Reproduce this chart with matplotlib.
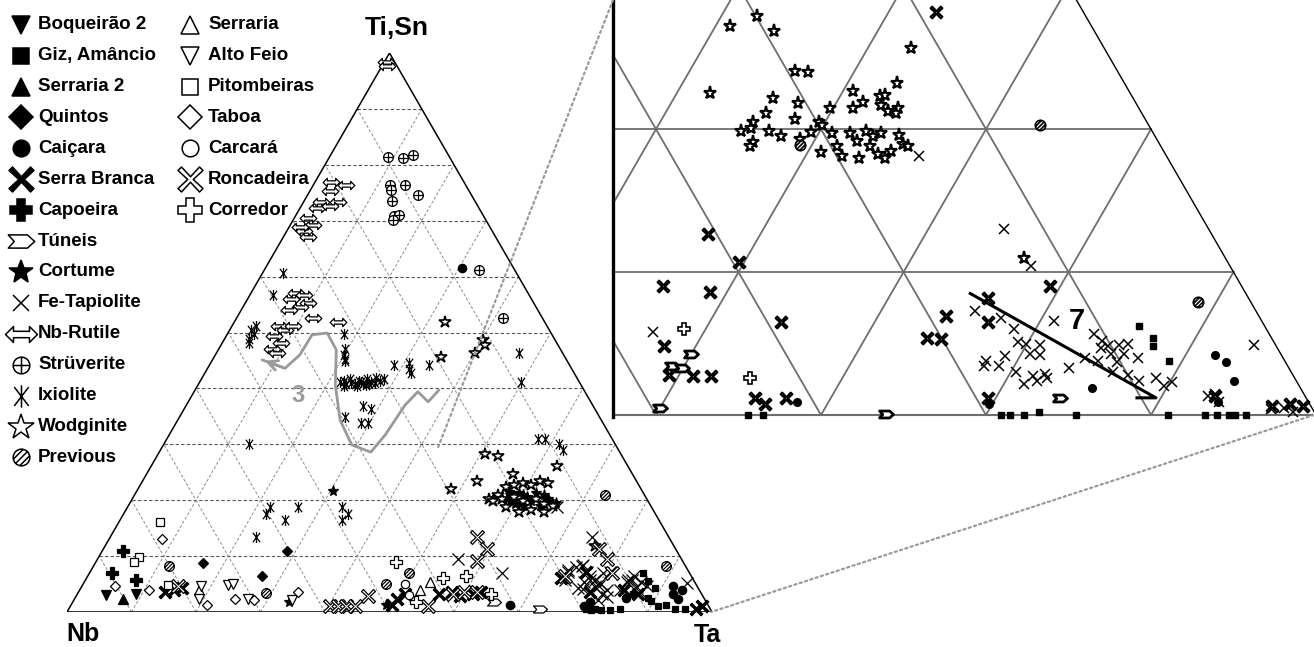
import numpy as np
import matplotlib
matplotlib.use("Agg")
import matplotlib.pyplot as plt
from matplotlib.path import Path
from matplotlib.patches import ConnectionPatch

plt.rcParams['font.family'] = ['Liberation Sans', 'DejaVu Sans']

# ---- data: (Ta %, Ti+Sn %) ; Nb is the remainder ----
boqueirao2 = [(9.1, 3.2), (4.5, 3.0)]
giz = [(85.8, 6.9), (87.3, 5.5), (89.0, 4.3), (88.8, 2.5), (85.4, 0.6), (81.5, 0.6), (91.1, 1.0),
       (92.2, 1.3), (93.9, 0.6), (80.2, 0.6), (86.1, 3.2), (89.5, 2.0), (95.5, 0.5),
       (81.1, 0.3), (82.6, 0.3), (84.0, 0.3)]
serraria2 = [(7.5, 2.4)]
quintos = [(16.8, 8.7), (27.0, 6.5), (28.7, 10.9)]
caicara = [(30.5, 61.5), (91.6, 4.7), (93.4, 3.9), (92.3, 3.2), (93.6, 2.4), (85.4, 2.5),
           (79.7, 1.0), (80.3, 1.7), (68.1, 1.3)]
serra_branca = [(73.5, 6.1), (76.9, 7.2), (79.4, 3.5), (84.4, 3.9), (87.0, 3.2), (97.2, 0.6),
                (97.9, 1.0), (13.5, 3.5), (14.6, 3.9), (15.7, 4.3), (49.9, 2.4), (50.8, 3.2),
                (49.8, 1.3), (56.0, 3.2), (57.9, 3.5), (59.5, 2.8), (61.3, 3.2), (62.4, 3.5)]
capoeira = [(3.3, 10.9), (7.8, 5.8), (3.6, 6.9)]
tuneis = [(43.4, 1.0), (73.0, 0.6), (65.3, 1.7)]
cortume = [(30.5, 21.6), (48.8, 1.3), (33.6, 1.7), (58.3, 20.9), (59.4, 21.3), (61.1, 20.5),
           (62.0, 21.3), (63.5, 20.9), (61.2, 19.0), (63.8, 19.0), (64.5, 20.2), (59.7, 19.4),
           (62.1, 19.8), (56.5, 20.5), (57.8, 21.5), (60.2, 21.0), (64.8, 19.8), (66.0, 19.5),
           (58.8, 19.8)]
fe_tapiolite = [(55.8, 9.5), (74.6, 13.5), (93.5, 5.2), (64.0, 6.9), (66.6, 18.7),
                (74.1, 7.2), (74.4, 5.7), (75.8, 8.4), (77.0, 7.2), (77.9, 4.2), (78.3, 5.7),
                (79.6, 4.5), (80.1, 5.1), (81.3, 3.3), (81.3, 2.1), (82.3, 2.7), (83.8, 3.9),
                (84.1, 5.4), (84.7, 5.7), (86.1, 4.5), (87.0, 3.6), (80.6, 7.2), (73.8, 7.6),
                (74.9, 8.0), (75.7, 8.3), (77.9, 6.5), (77.5, 5.4), (78.9, 5.8), (80.1, 4.7),
                (79.6, 6.9), (81.8, 3.9), (77.0, 4.3), (84.1, 5.8), (84.7, 6.5), (86.3, 5.4),
                (87.6, 4.7)]
nb_rutile = [(0.3, 98.4), (0.8, 97.6), (2.5, 77.0), (5.1, 76.3), (3.0, 75.4), (2.7, 73.3),
             (5.3, 73.3), (2.6, 72.2), (4.4, 72.6), (2.2, 70.4), (3.5, 69.2), (2.7, 68.1),
             (3.9, 67.0), (1.7, 68.8), (6.9, 57.1), (8.4, 56.7), (6.8, 56.0), (9.8, 55.2),
             (8.8, 54.5), (7.4, 54.1), (11.8, 52.6), (16.0, 51.9), (7.2, 51.2), (8.6, 50.4),
             (7.5, 49.3), (9.1, 48.2), (8.3, 47.1), (9.3, 46.4), (9.5, 51.2)]
struverite = [(9.1, 81.4), (11.5, 81.3), (12.8, 81.7), (12.0, 76.3), (12.5, 75.5), (14.3, 76.3),
              (17.1, 74.6), (13.7, 73.5), (15.2, 70.9), (16.0, 71.1), (15.4, 70.2), (33.3, 61.1),
              (41.3, 52.6)]
ixiolite = [(3.2, 60.6), (3.6, 56.7), (3.7, 51.2), (3.8, 48.9), (3.4, 50.4), (4.1, 49.7),
            (4.1, 48.2), (18.1, 49.7), (19.6, 47.1), (20.4, 45.3), (20.0, 46.0), (20.7, 44.9),
            (28.7, 44.1), (30.8, 44.5), (32.0, 42.7), (31.4, 43.4), (34.0, 44.1), (46.8, 46.4),
            (49.8, 41.2), (27.5, 36.8), (29.0, 36.4), (25.6, 34.9), (28.7, 33.8), (29.7, 33.8),
            (13.2, 30.1), (22.2, 18.7), (22.1, 17.6), (25.6, 16.5), (26.5, 18.7), (22.6, 13.5),
            (33.3, 18.7), (34.8, 17.6), (34.4, 16.5), (57.6, 30.9), (58.6, 30.9), (61.2, 30.1),
            (62.4, 29.0), (21.7, 41.2), (22.9, 40.8), (23.1, 41.6), (24.2, 40.8), (24.5, 41.4),
            (25.4, 40.9), (25.7, 41.7), (26.6, 41.2), (26.9, 41.9), (27.8, 41.4), (28.3, 41.7),
            (22.7, 40.5), (24.7, 40.5), (26.5, 40.7), (23.6, 41.0), (25.0, 41.2), (26.0, 40.6),
            (27.2, 41.0), (22.3, 41.3)]
wodginite = [(35.2, 45.6), (32.7, 51.9), (40.0, 46.4), (40.2, 48.6), (40.9, 47.8), (50.7, 28.3),
             (52.8, 27.9), (51.8, 23.5), (48.6, 22.0), (56.8, 24.6), (62.9, 26.1), (56.3, 20.9),
             (56.9, 22.4), (58.0, 22.7), (59.1, 23.1), (60.6, 22.7), (61.6, 23.5), (63.1, 23.1),
             (55.4, 20.2), (56.2, 19.8), (57.3, 20.2), (59.1, 20.5), (60.8, 19.8), (62.6, 20.2),
             (64.3, 19.4), (65.8, 19.0), (58.7, 18.7), (61.1, 17.9), (62.8, 18.3), (65.0, 17.9),
             (75.9, 11.8)]
previous = [(11.7, 8.2), (29.1, 3.4), (47.0, 5.0), (49.6, 6.9), (73.0, 20.9), (88.8, 8.2)]
serraria = [(52.8, 3.9), (53.6, 5.4), (18.5, 3.9)]
alto_feio = [(18.4, 4.7), (22.6, 4.8), (23.2, 5.0), (33.8, 2.1), (26.8, 2.4), (19.3, 2.4)]
pitombeiras = [(6.3, 16.1), (6.3, 9.8), (13.2, 4.8), (5.9, 8.9)]
taboa = [(8.2, 13.1), (5.1, 4.7), (10.7, 3.9), (21.1, 1.3), (34.0, 3.5), (27.9, 2.1), (24.8, 2.4)]
carcara = [(49.9, 5.0), (51.5, 3.0)]
roncadeira = [(56.8, 13.5), (59.5, 11.3), (59.0, 9.1), (76.8, 11.3), (79.0, 9.5), (74.0, 6.5),
              (81.0, 6.9), (45.2, 2.8), (55.5, 1.0), (58.3, 3.2), (59.8, 3.5), (61.8, 3.5),
              (14.8, 4.7), (40.2, 1.0), (41.5, 1.0), (42.8, 1.0), (44.1, 1.0)]
corredor = [(46.6, 8.9), (55.3, 6.1), (58.6, 6.5), (64.2, 3.2), (53.2, 1.7)]

# enlarged field (right panel)
inset_wodginite = [(50.9, 27.2), (52.2, 27.9), (53.7, 26.9), (56.4, 24.1), (57.2, 24.0), (52.0, 22.5),
                   (56.0, 22.2), (57.7, 21.8), (56.1, 21.1), (55.6, 20.5), (58.1, 20.7), (59.6, 20.5),
                   (59.8, 21.5), (60.6, 22.7), (61.6, 21.9), (61.2, 21.5), (62.4, 22.3), (62.7, 22.4),
                   (63.0, 23.2), (62.6, 25.7), (62.8, 21.7), (63.4, 21.3), (63.9, 21.5), (64.0, 21.1),
                   (55.2, 19.9), (55.7, 20.1), (56.9, 19.9), (57.8, 19.5), (56.3, 19.1), (56.3, 18.8),
                   (59.1, 19.3), (59.5, 19.8), (59.9, 20.3), (60.8, 18.4), (60.8, 19.7), (61.6, 18.8),
                   (62.2, 18.1), (61.9, 19.7), (62.6, 19.2), (63.3, 18.0), (62.8, 19.9), (63.6, 18.8),
                   (63.4, 19.5), (64.3, 18.3), (64.9, 18.0), (63.8, 19.7), (65.0, 18.5), (64.9, 19.6),
                   (65.5, 19.0), (65.9, 18.8), (76.8, 11.0)]
inset_fe_tapiolite = [(66.9, 18.1), (74.6, 13.0), (77.5, 10.4), (56.9, 5.8), (75.7, 7.3), (77.5, 6.8),
                      (78.7, 6.0), (79.4, 5.1), (79.1, 4.1), (78.1, 3.8), (78.2, 3.4), (79.1, 3.4),
                      (79.9, 5.0), (80.8, 4.9), (80.5, 4.3), (81.2, 4.2), (80.3, 3.0), (81.2, 2.2),
                      (81.5, 2.7), (82.1, 2.9), (81.9, 2.4), (82.4, 2.6), (80.8, 6.6), (83.4, 3.3),
                      (84.0, 4.0), (83.7, 5.7), (84.4, 5.2), (84.6, 4.7), (85.0, 4.8), (85.6, 4.9),
                      (86.1, 5.0), (85.4, 4.3), (86.2, 4.3), (86.1, 3.7), (84.9, 3.8), (86.2, 3.0),
                      (87.2, 2.8), (87.2, 4.0), (88.1, 2.4), (89.0, 2.6), (89.8, 2.0), (90.1, 2.3),
                      (93.8, 4.9), (92.8, 1.3), (93.1, 1.5), (93.7, 0.9), (97.1, 0.4), (97.8, 0.5),
                      (98.5, 0.2)]
inset_roncadeira = [(62.9, 28.2), (56.8, 12.7), (59.7, 10.7), (55.9, 9.0), (59.0, 8.6), (64.3, 6.5),
                    (58.1, 4.8), (74.1, 6.9), (73.7, 5.4), (74.6, 5.3), (76.0, 8.2), (76.9, 6.5),
                    (79.4, 9.0), (59.4, 2.8), (62.0, 2.7), (60.9, 2.7), (65.4, 1.2), (66.2, 0.8),
                    (67.3, 1.2), (79.5, 1.2), (93.2, 1.3), (97.05, 0.6), (98.0, 0.8), (98.9, 0.6)]
inset_giz = [(86.2, 6.2), (87.4, 5.4), (87.7, 4.8), (89.2, 3.8), (85.45, 0.0), (83.1, 0.2),
             (82.3, 0.0), (80.9, 0.0), (81.45, 0.0), (65.6, 0.0), (66.5, 0.0), (91.0, 0.0),
             (93.3, 0.0), (94.0, 0.0), (94.7, 0.0), (95.1, 0.0), (95.75, 0.0)]
inset_caicara = [(91.8, 4.2), (92.7, 3.7), (93.8, 2.4), (85.5, 1.9), (68.1, 0.9), (79.8, 0.8), (93.6, 0.9)]
inset_tuneis = [(60.0, 4.3), (59.3, 3.4), (59.9, 3.3), (83.9, 1.2), (60.0, 0.5), (73.9, 0.1)]
inset_corredor = [(58.7, 6.0), (64.4, 2.6)]
inset_previous = [(73.1, 20.3), (88.9, 7.9), (59.3, 18.9)]

# trend arrows
trend3 = [(37.8, 39.7), (37.2, 37.6), (34.7, 39.4), (33.9, 37.0), (33.5, 31.7), (32.8, 28.6),
          (29.2, 29.9), (25.2, 34.3), (21.3, 40.6), (18.3, 46.9), (15.4, 49.9), (13.2, 49.6),
          (13.1, 46.0), (12.0, 43.6), (7.7, 45.1)]
label3 = (16.4, 38.8)
trend7 = [(74.8, 8.5), (89.7, 1.2), (88.55, 1.2)]
label7 = (82.2, 6.6)

R3 = np.sqrt(3) / 2


def cart(pts):
    p = np.asarray(pts, float) / 100.0
    return p[:, 0] + p[:, 1] / 2, p[:, 1] * R3


def seg_path(segs):
    verts, codes = [], []
    for s in segs:
        verts += list(s)
        codes += [Path.MOVETO] + [Path.LINETO] * (len(s) - 1)
    return Path(verts, codes)


def poly_path(pts):
    return Path(list(pts) + [pts[0]], [Path.MOVETO] + [Path.LINETO] * (len(pts) - 1) + [Path.CLOSEPOLY])


circ = Path.unit_circle()
STRUV = Path.make_compound_path(circ, seg_path([[(-1, 0), (1, 0)], [(0, -1), (0, 1)]]))
hatch = []
for d in (-0.55, 0.0, 0.55):
    t = np.sqrt(1 - d * d)
    c = np.array([-d, d]) / np.sqrt(2)
    u = np.array([1, 1]) / np.sqrt(2)
    hatch.append([tuple(c - t * u), tuple(c + t * u)])
PREV = Path.make_compound_path(circ, seg_path(hatch))
IXIO = seg_path([[(0, -1), (0, 1)], [(-0.65, -0.85), (0.65, 0.85)], [(-0.65, 0.85), (0.65, -0.85)]])
RUTILE = poly_path([(-1, 0), (-0.5, 0.5), (-0.5, 0.2), (0.5, 0.2), (0.5, 0.5), (1, 0),
                    (0.5, -0.5), (0.5, -0.2), (-0.5, -0.2), (-0.5, -0.5)])
TUNEIS = poly_path([(-1, 0.5), (0.45, 0.5), (1, 0), (0.45, -0.5), (-1, -0.5), (-0.55, 0)])
XFLARE = poly_path([(0.22, 0), (1, 0.72), (0.72, 1), (0, 0.22), (-0.72, 1), (-1, 0.72),
                    (-0.22, 0), (-1, -0.72), (-0.72, -1), (0, -0.22), (0.72, -1), (1, -0.72)])

# name, data, marker, face, size main, size legend
series = [
    ("Boqueirão 2", boqueirao2, 'v', 'k', 7, 13),
    ("Giz, Amâncio", giz, 's', 'k', 5, 11),
    ("Serraria 2", serraria2, '^', 'k', 7, 13),
    ("Quintos", quintos, 'D', 'k', 5, 12),
    ("Caiçara", caicara, 'o', 'k', 6, 12),
    ("Serra Branca", serra_branca, XFLARE, 'k', 9, 18),
    ("Capoeira", capoeira, 'P', 'k', 8, 16),
    ("Túneis", tuneis, TUNEIS, 'w', 10, 19),
    ("Cortume", cortume, '*', 'k', 8, 18),
    ("Fe-Tapiolite", fe_tapiolite, 'x', 'k', 9, 12),
    ("Nb-Rutile", nb_rutile, RUTILE, 'w', 12, 23),
    ("Strüverite", struverite, STRUV, 'w', 7, 12),
    ("Ixiolite", ixiolite, IXIO, 'k', 8, 16),
    ("Wodginite", wodginite, '*', 'w', 9, 19),
    ("Previous", previous, PREV, 'w', 7, 12),
    ("Serraria", serraria, '^', 'w', 7, 13),
    ("Alto Feio", alto_feio, 'v', 'w', 7, 13),
    ("Pitombeiras", pitombeiras, 's', 'w', 6, 12),
    ("Taboa", taboa, 'D', 'w', 5.5, 12),
    ("Carcará", carcara, 'o', 'w', 6, 12),
    ("Roncadeira", roncadeira, XFLARE, 'w', 10, 18),
    ("Corredor", corredor, 'P', 'w', 8.5, 17),
]
style = {s[0]: s[2:] for s in series}

W, H = 1314, 647
fig = plt.figure(figsize=(W / 100, H / 100), dpi=100)

# ---- main ternary ----
ax = fig.add_axes([67 / W, (H - 612) / H, 645 / W, 559 / H])
ax.set_xlim(0, 1)
ax.set_ylim(0, R3)
ax.axis('off')

levels = np.arange(10, 100, 10)
for v in levels:
    x, y = cart([(0, v), (100 - v, v)])
    ax.plot(x, y, color='#555555', lw=0.8, ls=(0, (3, 2)), zorder=1)
    x, y = cart([(v, 0), (v, 100 - v)])
    ax.plot(x, y, color='#8c8c8c', lw=0.7, ls=(0, (3, 2)), zorder=1)
    x, y = cart([(100 - v, 0), (0, 100 - v)])
    ax.plot(x, y, color='#8c8c8c', lw=0.7, ls=(0, (3, 2)), zorder=1)
x, y = cart([(0, 0), (100, 0), (0, 100), (0, 0)])
ax.plot(x, y, color='black', lw=1.1, zorder=2)

for name, data, mk, fc, ms, lms in series:
    x, y = cart(data)
    mew = 1.2 if name == "Wodginite" else 0.9
    ax.plot(x, y, ls='none', marker=mk, ms=ms, mfc=fc, mec='black', mew=mew,
            clip_on=False, zorder=3)

x, y = cart(trend3)
ax.plot(x, y, color='#9a9a9a', lw=2, zorder=4, solid_capstyle='round')
ax.annotate('', xy=(x[-1], y[-1]), xytext=(x[-2], y[-2]),
            arrowprops=dict(arrowstyle='->', color='#9a9a9a', lw=2, mutation_scale=18), zorder=4)
lx, ly = cart([label3])
ax.text(lx[0], ly[0], '3', color='#9a9a9a', fontsize=17, fontweight='bold', ha='center', va='center')

ax.annotate('Ti,Sn', xy=(0.5, R3), xytext=(7, 25), textcoords='offset pixels',
            ha='center', va='center', fontsize=19, fontweight='bold', annotation_clip=False)
ax.annotate('Nb', xy=(0, 0), xytext=(16, -22), textcoords='offset pixels',
            ha='center', va='center', fontsize=18, fontweight='bold', annotation_clip=False)
ax.annotate('Ta', xy=(1, 0), xytext=(-5, -23), textcoords='offset pixels',
            ha='center', va='center', fontsize=18, fontweight='bold', annotation_clip=False)

# ---- enlarged field ----
x0, x1 = 1 - (1316 - 613) / 1650, 1 - (1316 - 1314) / 1650
ytop = 415 / 1650
ins = fig.add_axes([613 / W, (H - 425) / H, (W - 613) / W, 425 / H])
ins.set_xlim(x0, x1)
ins.set_ylim(-10 / 1650, ytop)
ins.patch.set_alpha(0)
for s in ('top', 'right', 'bottom'):
    ins.spines[s].set_visible(False)
ins.spines['left'].set_linewidth(2.4)
ins.spines['left'].set_bounds(-2 / 1650, ytop)
ins.set_xticks([])
ins.set_yticks([])
for v in levels:
    for seg in ([(0, v), (100 - v, v)], [(v, 0), (v, 100 - v)], [(100 - v, 0), (0, 100 - v)]):
        x, y = cart(seg)
        ins.plot(x, y, color='#6e6e6e', lw=1.3, zorder=1)
x, y = cart([(0, 0), (100, 0)])
ins.plot(x, y, color='#6e6e6e', lw=1.5, zorder=1)
x, y = cart([(100, 0), (0, 100)])
ins.plot(x, y, color='black', lw=1.0, zorder=1)

inset_series = [
    ("Wodginite", inset_wodginite, 9.5, 1.6),
    ("Fe-Tapiolite", inset_fe_tapiolite, 7.5, 1.1),
    ("Roncadeira", inset_roncadeira, 8.5, 1.5),
    ("Giz, Amâncio", inset_giz, 4.5, 1.0),
    ("Caiçara", inset_caicara, 5.5, 1.0),
    ("Túneis", inset_tuneis, 10, 2.0),
    ("Corredor", inset_corredor, 8, 1.2),
    ("Previous", inset_previous, 7.5, 1.2),
]
for name, data, ms, mew in inset_series:
    mk, fc, _, _ = style[name]
    x, y = cart(data)
    ins.plot(x, y, ls='none', marker=mk, ms=ms, mfc=fc, mec='black', mew=mew, zorder=3)

x, y = cart(trend7)
ins.plot(x, y, color='black', lw=2.2, zorder=4)
lx, ly = cart([label7])
ins.text(lx[0], ly[0], '7', fontsize=21, fontweight='bold', ha='center', va='center')

for xa, ya in ((x0, ytop), (x1, 0)):
    con = ConnectionPatch(xyA=(xa, ya), coordsA=ins.transData, xyB=(xa, ya), coordsB=ax.transData,
                          color='#9a9a9a', lw=1.6, ls=(0, (1, 1.5)))
    fig.add_artist(con)

# ---- legend ----
lax = fig.add_axes([0, 0, 1, 1])
lax.set_xlim(0, W)
lax.set_ylim(H, 0)
lax.axis('off')
cols = [(series[:15], 21, 38), (series[15:], 190, 208)]
for items, mx, tx in cols:
    for i, (name, data, mk, fc, ms, lms) in enumerate(items):
        yy = 24.8 + 30.9 * i
        lax.plot([mx], [yy], ls='none', marker=mk, ms=lms, mfc=fc, mec='black', mew=1.1, clip_on=False)
        lax.text(tx, yy, name, fontsize=13.5, fontweight='bold', va='center', ha='left')

fig.savefig('out.png', dpi=100)
